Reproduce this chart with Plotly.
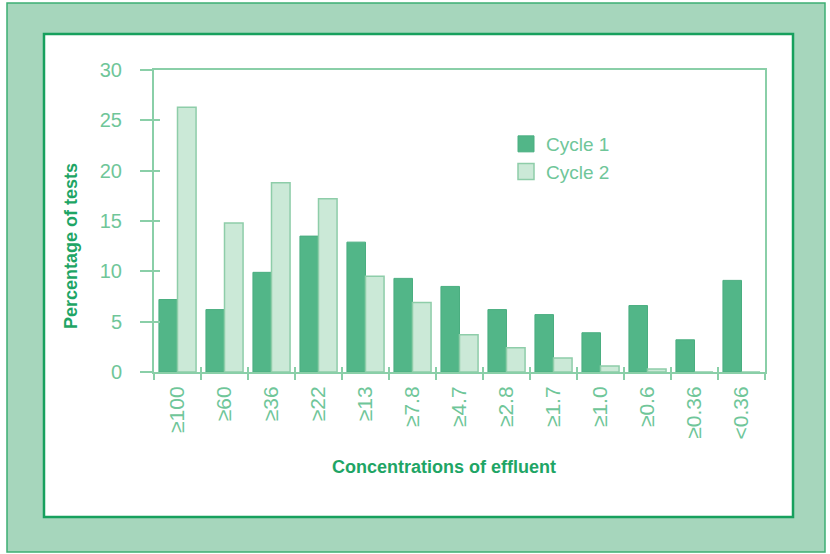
import plotly.graph_objects as go

# Effluent concentration classes (x axis)
categories = ["≥100", "≥60", "≥36", "≥22", "≥13", "≥7.8", "≥4.7",
              "≥2.8", "≥1.7", "≥1.0", "≥0.6", "≥0.36", "<0.36"]

# Percentage of tests in each class
cycle1 = [7.2, 6.2, 9.9, 13.5, 12.9, 9.3, 8.5, 6.2, 5.7, 3.9, 6.6, 3.2, 9.1]
cycle2 = [26.3, 14.8, 18.8, 17.2, 9.5, 6.9, 3.7, 2.4, 1.4, 0.6, 0.3, 0.0, 0.0]

y_ticks = [0, 5, 10, 15, 20, 25, 30]

W, H = 830, 554
ML, MR, MT, MB = 154, 65, 70, 182
PW, PH = W - ML - MR, H - MT - MB

DARK = "#17A05D"
MID = "#52B688"
LIGHT = "#CBE9D7"
LIGHT_EDGE = "#8ECDA9"
AXIS = "#8ACFA8"
TICKTXT = "#6FC699"
FONT = "Liberation Sans, Arial, sans-serif"


def px_x(p):
    return (p - ML) / PW


def px_y(p):
    return (H - MB - p) / PH


fig = go.Figure()

fig.add_trace(go.Bar(
    x=categories, y=cycle1, name="Cycle 1", showlegend=False,
    marker=dict(color=MID, line=dict(color="#4AAE80", width=1)),
))
fig.add_trace(go.Bar(
    x=categories, y=cycle2, name="Cycle 2", showlegend=False,
    marker=dict(color=LIGHT, line=dict(color=LIGHT_EDGE, width=1.5)),
))

# Legend entries with larger square swatches
fig.add_trace(go.Scatter(
    x=[None], y=[None], mode="markers", name="Cycle 1",
    marker=dict(symbol="square", size=16, color=MID, line=dict(color="#4AAE80", width=1)),
    xaxis="x2", yaxis="y2",
))
fig.add_trace(go.Scatter(
    x=[None], y=[None], mode="markers", name="Cycle 2",
    marker=dict(symbol="square", size=16, color=LIGHT, line=dict(color=LIGHT_EDGE, width=1.5)),
    xaxis="x2", yaxis="y2",
))

n = len(categories)

fig.update_layout(
    width=W, height=H,
    margin=dict(l=ML, r=MR, t=MT, b=MB, pad=0),
    paper_bgcolor="white",
    plot_bgcolor="rgba(0,0,0,0)",
    barmode="group",
    bargap=0.21,
    bargroupgap=0.0,
    font=dict(family=FONT, color=TICKTXT),
    xaxis=dict(
        type="category",
        range=[-0.5, n - 0.5],
        tickson="boundaries",
        ticks="outside", ticklen=6, tickwidth=1.5, tickcolor=AXIS,
        showline=True, linecolor=AXIS, linewidth=2, mirror=True,
        showgrid=False, zeroline=False,
        tickangle=-90,
        tickfont=dict(size=21, color=TICKTXT, family=FONT),
        ticklabelstandoff=4,
    ),
    yaxis=dict(
        range=[0, 30],
        tickvals=y_ticks,
        ticks="outside", ticklen=12, tickwidth=1.5, tickcolor=AXIS,
        showline=True, linecolor=AXIS, linewidth=2, mirror=True,
        showgrid=False, zeroline=False,
        tickfont=dict(size=20, color=TICKTXT, family=FONT),
        ticklabelstandoff=14,
    ),
    # overlay axes carrying the short inner half of each tick mark
    xaxis2=dict(
        overlaying="x", anchor="y",
        range=[-0.5, n - 0.5],
        tickvals=[i - 0.5 for i in range(n + 1)],
        ticks="inside", ticklen=5, tickwidth=1.5, tickcolor=AXIS,
        showticklabels=False, showline=False, showgrid=False, zeroline=False,
    ),
    yaxis2=dict(
        overlaying="y", anchor="x", side="left",
        range=[0, 30],
        tickvals=y_ticks,
        ticks="inside", ticklen=6, tickwidth=1.5, tickcolor=AXIS,
        showticklabels=False, showline=False, showgrid=False, zeroline=False,
    ),
    legend=dict(
        x=px_x(506), y=px_y(125), xanchor="left", yanchor="top",
        bgcolor="rgba(0,0,0,0)",
        font=dict(size=19, color=TICKTXT, family=FONT),
        itemsizing="trace",
        tracegroupgap=0,
    ),
    shapes=[
        dict(type="rect", xref="paper", yref="paper", layer="below",
             x0=px_x(7), x1=px_x(825), y0=px_y(3), y1=px_y(552),
             fillcolor="#A6D6BC", line=dict(color="#3DAE73", width=1.5)),
        dict(type="rect", xref="paper", yref="paper", layer="below",
             x0=px_x(44), x1=px_x(793), y0=px_y(34), y1=px_y(517),
             fillcolor="white", line=dict(color=DARK, width=2.5)),
    ],
    annotations=[
        dict(text="<b>Concentrations of effluent</b>", xref="paper", yref="paper",
             x=px_x(444), y=px_y(467), xanchor="center", yanchor="middle",
             showarrow=False, font=dict(size=18, color="#1EA565", family=FONT)),
        dict(text="<b>Percentage of tests</b>", xref="paper", yref="paper",
             x=px_x(71), y=px_y(246), xanchor="center", yanchor="middle",
             textangle=-90, showarrow=False,
             font=dict(size=18, color="#1EA565", family=FONT)),
    ],
)

fig.write_html("out.html")
